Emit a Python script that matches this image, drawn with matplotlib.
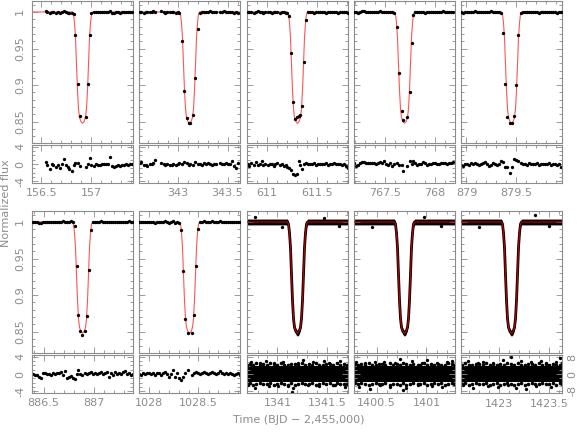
import numpy as np
import matplotlib.pyplot as plt
from matplotlib.ticker import MultipleLocator, FormatStrFormatter

# transit mid-times of the ten panels (BJD - 2,455,000)
tmid = [156.913, 343.12, 611.303, 767.695, 879.45,
        886.89, 1028.41, 1341.20, 1400.78, 1423.127]

# model light curve shape (offset from mid-transit, normalized flux)
model_dt = [-0.6, -0.10, -0.09, -0.08, -0.07, -0.06, -0.05, -0.04, -0.03, -0.015, 0.0,
            0.015, 0.03, 0.04, 0.05, 0.06, 0.07, 0.08, 0.09, 0.10, 0.6]
model_flux = [1.0, 1.0, 0.997, 0.985, 0.965, 0.928, 0.893, 0.868, 0.856, 0.850, 0.848,
              0.850, 0.856, 0.868, 0.893, 0.928, 0.965, 0.985, 0.997, 1.0, 1.0]

# ---- long cadence transits: time, flux, residual ----
t1 = [156.543, 156.563, 156.583, 156.603, 156.623, 156.643, 156.663, 156.683, 156.703, 156.723,
      156.743, 156.763, 156.783, 156.803, 156.823, 156.843, 156.863, 156.883, 156.943, 156.963,
      156.983, 157.003, 157.023, 157.043, 157.063, 157.083, 157.103, 157.123, 157.143, 157.163,
      157.183, 157.203, 157.223, 157.243, 157.263, 157.283, 157.303, 157.323, 157.343, 157.363,
      157.383, 157.403]
f1 = [1.001, 1.000, 0.999, 1.000, 1.000, 0.999, 1.000, 0.999, 1.000, 1.001,
      1.000, 0.999, 0.999, 0.998, 0.997, 0.968, 0.901, 0.858, 0.857, 0.901,
      0.968, 0.999, 1.000, 1.000, 1.000, 1.000, 1.000, 1.000, 1.000, 1.000,
      1.002, 0.999, 0.999, 1.000, 1.000, 0.999, 1.000, 1.000, 1.000, 1.000,
      1.000, 1.000]
r1 = [0.5, -0.2, -1.2, 0.0, -0.3, -0.8, -0.3, -0.9, 0.1, 1.1,
      -0.2, -0.8, -1.2, -1.7, -0.2, 0.3, 0.3, -0.4, -0.6, 0.1,
      1.3, -0.3, -0.4, -0.1, -0.3, -0.2, 0.0, 0.1, 0.0, 0.1,
      1.6, -0.5, -0.6, -0.4, -0.3, -0.5, -0.3, -0.2, -0.1, -0.2,
      0.0, 0.1]

t2 = [342.620, 342.640, 342.660, 342.680, 342.700, 342.720, 342.740, 342.760, 342.780, 342.840,
      342.860, 342.880, 342.900, 342.920, 342.940, 342.960, 342.980, 343.000, 343.020,
      343.043, 343.070, 343.093, 343.110, 343.127, 343.153, 343.177, 343.203,
      343.225, 343.245, 343.265, 343.285, 343.305, 343.325, 343.345, 343.365, 343.385, 343.425,
      343.445, 343.465, 343.485, 343.505, 343.525, 343.545, 343.565, 343.585, 343.605]
f2 = [1.000, 1.000, 0.999, 1.000, 1.000, 1.000, 1.000, 1.001, 1.000, 1.001,
      1.000, 0.999, 1.000, 1.000, 1.000, 1.000, 0.999, 1.000, 0.998,
      0.961, 0.892, 0.855, 0.848, 0.849, 0.859, 0.910, 0.977,
      0.999, 1.000, 1.000, 1.000, 1.000, 1.001, 1.000, 1.000, 1.000, 1.000,
      1.000, 1.001, 1.000, 1.000, 1.000, 1.000, 0.999, 1.000, 0.999]
r2 = [0.3, 0.4, -0.3, -0.2, -0.4, 0.1, -0.1, 0.2, 1.0, 0.3,
      -0.1, -0.3, 0.0, -0.2, -0.3, 0.1, -0.2, 0.0, 0.3,
      -0.1, 0.5, 0.2, -0.3, 0.0, -0.2, 0.4, 0.1,
      0.0, -0.3, 0.2, -0.1, 0.3, 0.0, -0.2, 0.1, 0.0, 0.2,
      -0.1, 0.0, 0.3, -0.1, 0.1, 0.6, -0.4, -1.0, 0.2]

t3 = [610.803, 610.823, 610.843, 610.863, 610.883, 610.903, 610.923, 610.943, 610.963, 610.983,
      611.003, 611.023, 611.043, 611.063, 611.083, 611.103, 611.123, 611.143, 611.163, 611.183,
      611.203,
      611.223, 611.240, 611.257, 611.280, 611.297, 611.313, 611.330, 611.347, 611.363, 611.387,
      611.407, 611.427, 611.447, 611.467, 611.487, 611.507, 611.527, 611.547, 611.567, 611.587,
      611.607, 611.627, 611.647, 611.667, 611.687, 611.707, 611.727, 611.747, 611.767, 611.787,
      611.807]
f3 = [1.000, 1.000, 1.000, 0.999, 1.000, 1.001, 1.000, 1.000, 0.999, 1.000,
      1.000, 1.000, 0.999, 1.000, 1.000, 1.000, 0.999, 1.000, 1.000, 0.999,
      0.999,
      0.994, 0.944, 0.877, 0.854, 0.856, 0.858, 0.859, 0.871, 0.932, 0.989,
      1.000, 1.000, 1.000, 0.999, 1.000, 1.000, 1.000, 1.000, 1.000, 0.999,
      1.000, 1.000, 1.000, 1.000, 1.000, 0.999, 1.000, 1.000, 1.000, 1.000,
      0.999]
r3 = [0.0, -0.5, 0.2, -0.2, 0.5, -0.3, -0.1, 0.6, -0.2, 0.0,
      -0.3, -0.1, 0.0, -0.4, 0.1, 0.3, -0.2, 0.0, -0.4, -0.3,
      -0.6,
      -0.9, -1.5, -2.2, -2.5, -2.3, 0.7, -0.3, -1.2, 0.1, 0.2,
      0.0, 0.1, -0.1, 0.2, -0.2, 0.0, 0.1, -0.1, 0.0, 0.3,
      -0.2, 0.0, 0.1, 0.2, -0.1, 0.0, 0.1, -0.2, -0.1, -0.5,
      -0.9]

t4 = [767.193, 767.213, 767.233, 767.253, 767.273, 767.293, 767.313, 767.333, 767.353, 767.373,
      767.393, 767.413, 767.433, 767.453, 767.473, 767.493, 767.513, 767.533, 767.553, 767.573,
      767.593,
      767.617, 767.643, 767.667, 767.683, 767.723, 767.750, 767.767, 767.783,
      767.803, 767.823, 767.843, 767.863, 767.883, 767.903, 767.923, 767.943, 767.963, 767.983,
      768.003, 768.023, 768.043, 768.063, 768.083, 768.103, 768.123, 768.143, 768.163, 768.183]
f4 = [1.000, 1.000, 0.999, 1.000, 1.001, 1.001, 1.000, 1.000, 1.000, 1.000,
      1.000, 1.000, 1.000, 1.001, 1.000, 1.000, 1.000, 1.000, 1.000, 1.000,
      0.999,
      0.980, 0.916, 0.865, 0.852, 0.857, 0.891, 0.958, 0.996,
      1.000, 1.000, 1.000, 1.000, 1.000, 0.999, 1.000, 1.000, 1.000, 1.000,
      1.000, 1.000, 1.000, 1.000, 1.001, 1.000, 1.000, 1.000, 1.000, 1.000]
r4 = [0.2, -0.4, -0.2, 0.3, 0.4, 0.5, 0.3, 0.3, 0.2, 0.3,
      0.2, 0.1, 0.3, 0.5, 0.2, 0.6, 0.1, -0.3, 0.2, -0.4,
      0.0,
      0.3, -0.3, -0.2, -1.6, -0.5, 0.8, 0.1, 0.8,
      0.3, -0.2, 0.1, 0.0, 0.5, 0.2, -0.3, 0.0, 0.1, 0.3,
      0.2, 0.0, 0.1, 0.2, 0.2, 0.3, 0.1, 0.2, 0.3, 0.4]

t5 = [878.944, 878.964, 878.984, 879.004, 879.024, 879.044, 879.064, 879.084, 879.104, 879.124,
      879.144, 879.164, 879.184, 879.204, 879.224, 879.244, 879.264, 879.284, 879.304, 879.324,
      879.344, 879.367, 879.390, 879.410, 879.434, 879.460, 879.477, 879.500, 879.520, 879.544,
      879.564, 879.584, 879.604, 879.624, 879.644, 879.664, 879.684, 879.704, 879.724, 879.744,
      879.764, 879.784, 879.804, 879.824, 879.844, 879.864, 879.884, 879.904, 879.924, 879.944]
f5 = [1.000, 0.999, 1.000, 1.000, 1.000, 1.000, 1.000, 1.001, 1.000, 1.000,
      1.000, 1.000, 1.000, 1.000, 1.000, 1.001, 1.000, 1.000, 1.000, 1.000,
      0.999, 0.971, 0.902, 0.857, 0.848, 0.848, 0.858, 0.900, 0.969, 0.999,
      1.000, 1.000, 1.000, 1.000, 1.000, 1.000, 1.000, 1.000, 0.999, 1.000,
      1.000, 1.000, 1.000, 1.000, 1.000, 1.000, 1.000, 0.999, 1.000, 1.000]
r5 = [-0.2, -0.4, 0.1, 0.0, -0.3, 0.2, -0.1, 0.3, 0.0, -0.2,
      0.1, 0.3, 0.5, 0.1, -0.4, -0.2, 0.2, 0.0, -0.3, 0.1,
      0.7, 0.4, -0.7, -0.6, -2.0, -0.6, 1.1, 0.9, 0.6, 0.2,
      -0.1, 0.1, -0.2, 0.3, 0.0, -0.1, 0.1, 0.2, -0.2, 0.0,
      0.1, -0.1, 0.0, 0.2, -0.3, 0.1, 0.0, -0.2, 0.1, -0.6]

t6 = [886.390, 886.410, 886.430, 886.450, 886.470, 886.490, 886.510, 886.530, 886.550, 886.570,
      886.590, 886.610, 886.630, 886.650, 886.670, 886.690, 886.710, 886.730, 886.750, 886.770,
      886.790,
      886.810, 886.830, 886.847, 886.863, 886.887, 886.910, 886.933, 886.950, 886.970,
      886.990, 887.010, 887.030, 887.050, 887.070, 887.090, 887.110, 887.130, 887.150, 887.170,
      887.190, 887.210, 887.230, 887.250, 887.270, 887.290, 887.310, 887.330, 887.350, 887.370,
      887.390]
f6 = [1.000, 1.000, 1.000, 0.999, 0.999, 1.000, 1.000, 1.000, 1.000, 1.000,
      1.000, 1.000, 1.000, 1.000, 1.000, 1.001, 1.000, 1.000, 1.000, 1.001,
      1.000,
      0.994, 0.940, 0.873, 0.851, 0.846, 0.851, 0.871, 0.934, 0.989,
      1.000, 1.000, 1.000, 1.000, 1.001, 1.000, 1.000, 1.000, 1.000, 1.000,
      1.000, 1.000, 1.000, 1.000, 1.000, 1.000, 1.000, 1.000, 1.001, 1.000,
      1.000]
r6 = [0.0, -0.2, -0.2, -0.6, -0.9, 0.2, 0.3, 0.0, 0.0, -0.2,
      0.2, 0.0, 0.2, 0.3, 0.5, -0.2, 0.8, -1.0, -0.6, -0.4,
      -0.9,
      -1.2, 0.1, 0.9, 0.1, -0.2, 0.2, 0.0, 0.3, 0.5,
      0.0, 0.2, 0.0, 0.3, 0.5, 0.0, 0.2, 0.5, -0.6, 0.2,
      -0.2, 0.5, 0.0, 0.2, -0.1, 0.4, 0.6, 0.0, 0.2, -0.2,
      -0.1]

t7 = [1027.905, 1027.925, 1027.945, 1027.965, 1027.985, 1028.005, 1028.025, 1028.045, 1028.065, 1028.085,
      1028.105, 1028.125, 1028.145, 1028.165, 1028.185, 1028.205, 1028.225, 1028.245, 1028.265, 1028.285,
      1028.305,
      1028.324, 1028.347, 1028.370, 1028.390, 1028.430, 1028.454, 1028.474, 1028.497,
      1028.517, 1028.537, 1028.557, 1028.577, 1028.597, 1028.617, 1028.637, 1028.657, 1028.677, 1028.697,
      1028.717, 1028.737, 1028.757, 1028.777, 1028.797, 1028.817, 1028.837, 1028.857, 1028.877, 1028.897,
      1028.917]
f7 = [1.000, 1.000, 1.000, 1.000, 1.000, 1.000, 1.000, 1.000, 0.999, 1.000,
      1.000, 1.000, 1.000, 1.001, 1.000, 0.999, 1.000, 1.001, 0.999, 1.000,
      0.999,
      0.989, 0.933, 0.867, 0.849, 0.849, 0.873, 0.940, 0.991,
      1.000, 1.000, 1.001, 1.000, 1.000, 1.000, 1.001, 1.000, 1.000, 1.000,
      1.001, 1.000, 1.000, 1.000, 1.000, 1.000, 1.000, 1.000, 1.000, 1.000,
      1.000]
r7 = [0.0, -0.2, 0.2, 0.0, 0.2, 0.3, 0.0, 0.2, -0.2, 0.2,
      0.3, -0.2, 0.2, 0.5, 0.0, -0.6, 0.0, 0.9, -0.6, 0.3,
      -1.0,
      -1.5, -0.6, 0.2, 0.9, -0.2, 0.2, 0.5, 0.3,
      0.0, 0.2, 0.5, 0.3, 0.0, 0.2, 0.5, 0.2, 0.0, 0.3,
      0.7, 0.2, 0.0, 0.3, 0.0, 0.2, 0.0, -0.2, 0.0, 0.2,
      -0.2]

# ---- short cadence transits: scatter envelope and stray points ----
sc_flux_noise = 0.0040
sc_res_core = 4.0

t8f = [1340.78, 1341.05, 1341.47, 1341.62]
f8f = [1.007, 0.993, 1.006, 0.994]
t9f = [1400.45, 1400.98, 1401.15]
f9f = [0.993, 1.007, 0.994]
t10f = [1422.80, 1423.36, 1423.50]
f10f = [0.993, 1.010, 0.994]

# stray residual points beyond the dense core
t8r = [1340.71, 1340.74, 1340.78, 1340.83, 1340.88, 1340.92, 1340.97, 1341.01, 1341.06, 1341.11, 1341.15,
       1341.16, 1341.21, 1341.26, 1341.31, 1341.36, 1341.42, 1341.47, 1341.52, 1341.58, 1341.63, 1341.68]
r8r = [-5.4, 5.9, -6.8, 5.5, 6.3, -5.6, 5.2, -6.0, 5.8, -5.9, -8.6,
       -6.9, 5.4, 6.6, -5.3, 5.7, -5.8, 6.1, 5.3, -5.5, 6.4, -6.2]
t9r = [1400.29, 1400.33, 1400.38, 1400.43, 1400.48, 1400.53, 1400.58, 1400.63, 1400.68, 1400.73, 1400.77,
       1400.80, 1400.86, 1400.91, 1400.96, 1401.01, 1401.06, 1401.11, 1401.16, 1401.21, 1401.26]
r9r = [5.6, -6.1, 5.2, -7.3, 6.0, -5.5, 5.8, -6.4, 5.1, 7.2, -7.8,
       -6.6, 6.1, -5.2, 5.5, 6.8, -5.9, 5.4, -6.2, 5.7, 6.3]
t10r = [1422.64, 1422.69, 1422.74, 1422.79, 1422.84, 1422.89, 1422.94, 1422.99, 1423.04, 1423.09, 1423.12,
        1423.17, 1423.22, 1423.27, 1423.32, 1423.37, 1423.42, 1423.47, 1423.52, 1423.57, 1423.61]
r10r = [-5.5, 6.2, -7.0, 5.4, 6.0, -5.8, 5.3, -6.5, 6.6, -5.4, 8.2,
        -6.9, 6.4, -7.4, 5.6, -5.9, 6.1, 5.5, -6.3, 5.8, 7.6]

# ragged upper / lower edge of the dense residual band
t8e = [1340.70, 1340.73, 1340.76, 1340.79, 1340.83, 1340.86, 1340.90, 1340.93, 1340.97, 1341.00,
       1341.04, 1341.07, 1341.11, 1341.14, 1341.18, 1341.21, 1341.25, 1341.28, 1341.32, 1341.35,
       1341.39, 1341.42, 1341.46, 1341.49, 1341.53, 1341.56, 1341.60, 1341.63, 1341.67, 1341.70]
u8e = [4.6, 5.0, 4.3, 5.2, 4.5, 4.9, 4.4, 5.1, 4.7, 4.3, 5.3, 4.6, 4.4, 5.0, 4.8, 4.4, 5.2, 4.5,
       4.9, 4.3, 5.1, 4.6, 4.4, 5.0, 4.7, 4.3, 5.2, 4.5, 4.9, 4.6]
l8e = [-4.8, -4.4, -5.1, -4.6, -4.3, -5.0, -4.7, -4.4, -5.3, -4.6, -4.4, -4.9, -5.2, -4.5, -5.5,
       -4.8, -4.4, -5.0, -4.6, -4.3, -5.1, -4.7, -4.4, -4.9, -4.5, -5.2, -4.3, -4.8, -4.6, -5.0]
t9e = [1400.28, 1400.31, 1400.35, 1400.38, 1400.42, 1400.45, 1400.49, 1400.52, 1400.56, 1400.59,
       1400.63, 1400.66, 1400.70, 1400.73, 1400.77, 1400.80, 1400.84, 1400.87, 1400.91, 1400.94,
       1400.98, 1401.01, 1401.05, 1401.08, 1401.12, 1401.15, 1401.19, 1401.22, 1401.26, 1401.28]
u9e = [5.0, 4.5, 4.8, 4.3, 5.2, 4.6, 4.4, 5.0, 4.7, 4.3, 5.1, 4.5, 4.9, 4.4, 5.3, 4.7, 4.4, 5.0,
       4.6, 4.3, 5.2, 4.5, 4.8, 4.4, 5.0, 4.6, 4.3, 5.1, 4.7, 4.5]
l9e = [-4.5, -5.0, -4.4, -4.8, -5.2, -4.6, -4.3, -5.0, -4.7, -4.4, -5.1, -4.6, -4.9, -5.4, -4.5,
       -5.3, -4.8, -4.4, -5.0, -4.6, -4.3, -5.1, -4.7, -4.4, -4.9, -4.5, -5.2, -4.6, -4.4, -4.8]
t10e = [1422.63, 1422.66, 1422.70, 1422.73, 1422.77, 1422.80, 1422.84, 1422.87, 1422.91, 1422.94,
        1422.98, 1423.01, 1423.05, 1423.08, 1423.12, 1423.15, 1423.19, 1423.22, 1423.26, 1423.29,
        1423.33, 1423.36, 1423.40, 1423.43, 1423.47, 1423.50, 1423.54, 1423.57, 1423.61, 1423.63]
u10e = [4.4, 5.1, 4.6, 4.3, 5.0, 4.7, 4.4, 5.2, 4.5, 4.9, 4.3, 5.0, 4.6, 5.3, 4.8, 4.4, 5.1, 4.6,
        4.3, 5.0, 4.7, 4.4, 5.2, 4.5, 4.9, 4.3, 5.0, 4.6, 4.4, 5.1]
l10e = [-4.9, -4.4, -5.2, -4.6, -4.3, -5.0, -4.7, -4.4, -5.1, -4.6, -4.4, -5.3, -4.8, -4.5, -5.0,
        -5.4, -4.6, -4.3, -5.1, -4.7, -4.4, -4.9, -4.6, -4.3, -5.0, -4.7, -4.4, -5.2, -4.5, -4.8]

sparse = [(t1, f1, r1), (t2, f2, r2), (t3, f3, r3), (t4, f4, r4), (t5, f5, r5),
          (t6, f6, r6), (t7, f7, r7)]
dense = [(t8f, f8f, t8r, r8r, t8e, u8e, l8e),
         (t9f, f9f, t9r, r9r, t9e, u9e, l9e),
         (t10f, f10f, t10r, r10r, t10e, u10e, l10e)]

# ---- layout (pixels) ----
W, H = 578, 433
GRAY = '#8c8c8c'
col_left = [32, 139, 247, 354, 461]
col_w = 101
rows = [((1, 143), (145, 183)), ((211, 353), (355, 393))]
half_span = 0.505

plt.rcParams['font.family'] = ['DejaVu Sans']
fig = plt.figure(figsize=(W / 100, H / 100), dpi=100)


def px_axes(x0, y0, x1, y1):
    return fig.add_axes([x0 / W, 1 - y1 / H, (x1 - x0) / W, (y1 - y0) / H])


def style(ax, ymaj, ymin):
    for s in ax.spines.values():
        s.set_color(GRAY)
        s.set_linewidth(0.8)
    ax.xaxis.set_major_locator(MultipleLocator(0.5))
    ax.xaxis.set_minor_locator(MultipleLocator(0.1))
    ax.yaxis.set_major_locator(MultipleLocator(ymaj))
    ax.yaxis.set_minor_locator(MultipleLocator(ymin))
    ax.xaxis.set_major_formatter(FormatStrFormatter('%g'))
    ax.yaxis.set_major_formatter(FormatStrFormatter('%g'))
    ax.tick_params(which='both', direction='in', top=True, right=True,
                   color=GRAY, labelcolor=GRAY, labelsize=8, width=0.6)
    ax.tick_params(which='major', length=4)
    ax.tick_params(which='minor', length=2)
    ax.tick_params(axis='x', pad=3.5)
    ax.tick_params(axis='y', labelrotation=90, pad=5)
    plt.setp(ax.get_yticklabels(), va='center')


for i in range(10):
    row, col = divmod(i, 5)
    (fy0, fy1), (ry0, ry1) = rows[row]
    x0 = col_left[col]
    axf = px_axes(x0, fy0, x0 + col_w, fy1)
    axr = px_axes(x0, ry0, x0 + col_w, ry1)
    xl = (tmid[i] - half_span, tmid[i] + half_span)
    mt = np.array(model_dt) + tmid[i]
    mf = np.array(model_flux)

    if i < 7:
        t, f, r = sparse[i]
        axf.plot(mt, mf, color='#ff5555', lw=0.8, zorder=2)
        axf.plot(t, f, 'o', color='black', ms=2.4, mew=0, zorder=3)
        axr.plot(t, r, 'o', color='black', ms=2.4, mew=0)
        axr.set_ylim(-4.4, 4.4)
        style(axr, 4, 1)
    else:
        tf, ff, tr, rr, te, ue, le = dense[i - 7]
        axf.fill_between(mt, mf - sc_flux_noise, mf + sc_flux_noise, color='black', lw=0, zorder=1)
        axf.plot(mt, mf, color='black', lw=2.0, zorder=1)
        axf.plot(tf, ff, 'o', color='black', ms=2.4, mew=0, zorder=2)
        axf.plot(mt, mf, color='#b00000', lw=0.9, zorder=3)
        axr.fill_between(xl, -sc_res_core, sc_res_core, color='black', lw=0)
        axr.plot(te, ue, 'o', color='black', ms=2.6, mew=0)
        axr.plot(te, le, 'o', color='black', ms=2.6, mew=0)
        axr.plot(tr, rr, 'o', color='black', ms=2.4, mew=0)
        axr.set_ylim(-9.2, 9.2)
        style(axr, 8, 2)

    axf.set_xlim(xl)
    axr.set_xlim(xl)
    axf.set_ylim(0.821, 1.015)
    style(axf, 0.05, 0.01)
    axf.tick_params(labelbottom=False)
    if col != 0:
        axf.tick_params(labelleft=False)
        axr.tick_params(labelleft=False)
    if i == 9:
        axr.tick_params(labelright=True, pad=4)
        for lbl in axr.yaxis.get_ticklabels():
            lbl.set_va('center')

fig.text(6 / W, 1 - 203 / H, 'Normalized flux', rotation=90, ha='center', va='center',
         color=GRAY, fontsize=8)
fig.text(299 / W, 1 - 420 / H, 'Time (BJD \u2212 2,455,000)', ha='center', va='center',
         color=GRAY, fontsize=8)

fig.savefig('out.png', dpi=100)
